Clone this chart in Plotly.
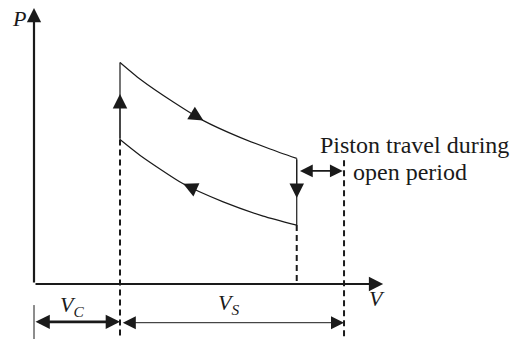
import plotly.graph_objects as go

# Indicator cycle of a ported cylinder; V and P in arbitrary units,
# origin at the corner of the axes.
upper_V = [20.0, 24.7, 32.4, 39.4, 47.9, 54.9, 61.1]
upper_P = [51.5, 47.6, 42.3, 38.0, 34.1, 31.4, 29.2]
lower_V = [20.0, 24.7, 34.7, 44.0, 53.3, 61.1]
lower_P = [33.6, 29.9, 23.3, 19.1, 15.8, 13.7]

V_C = 20.0          # clearance volume
V_PORT = 61.1       # piston position when the port opens
V_END = 72.1        # end of stroke
V_AXIS_MAX = 81.2
P_AXIS_MAX = 64.2

X_RANGE = [-7.907, 112.558]
Y_RANGE = [-12.791, 66.047]
Y_BOTTOM = Y_RANGE[0]

INK = "#1a1a1a"
SERIF = "Liberation Serif"

fig = go.Figure()


def line(xs, ys, width=1.2, dash=None, color=INK):
    fig.add_trace(go.Scatter(
        x=xs, y=ys, mode="lines",
        line=dict(color=color, width=width, dash=dash, shape="spline", smoothing=0.6),
        hoverinfo="skip", showlegend=False))


def arrow(x0, y0, x1, y1, width=1.2, size=1.8, both=False, head=2):
    fig.add_annotation(
        x=x1, y=y1, ax=x0, ay=y0, xref="x", yref="y", axref="x", ayref="y",
        text="", showarrow=True, arrowhead=head, startarrowhead=head,
        arrowsize=size, startarrowsize=size, arrowwidth=width,
        arrowcolor=INK, arrowside="end+start" if both else "end",
        standoff=0, startstandoff=0)


def label(x, y, text, size=22):
    fig.add_annotation(
        x=x, y=y, xref="x", yref="y", text=text, showarrow=False,
        xanchor="center", yanchor="middle",
        font=dict(family=SERIF, size=size, color=INK))


def curve_arrow(vs, ps, i, j, run=3.0):
    """Arrowhead sitting on the curve at point j, pointing away from point i."""
    slope = (ps[j] - ps[i]) / (vs[j] - vs[i])
    step = run if vs[i] < vs[j] else -run
    arrow(vs[j] - step, ps[j] - slope * step, vs[j], ps[j], width=1, size=2.9)


# expansion and compression curves
line(upper_V, upper_P, width=1.2)
line(lower_V, lower_P, width=1.2)

# vertical legs of the cycle
line([V_C, V_C], [lower_P[0], upper_P[0]], width=1.2)
line([V_PORT, V_PORT], [upper_P[-1], lower_P[-1]], width=1.2)

# direction markers on the cycle
curve_arrow(upper_V, upper_P, 2, 3)
curve_arrow(lower_V, lower_P, 3, 2)
arrow(V_C, lower_P[0], V_C, 44.2, width=1, size=2.9)
arrow(V_PORT, upper_P[-1], V_PORT, 20.0, width=1, size=2.9)

# dashed construction lines
DASH = "6px,4px"
line([V_C, V_C], [lower_P[0], Y_BOTTOM], width=2, dash=DASH)
line([V_PORT, V_PORT], [lower_P[-1], 0], width=2, dash=DASH)
line([V_END, V_END], [28.8, Y_BOTTOM], width=2, dash=DASH)

# axes
arrow(0, 0, 0, P_AXIS_MAX, width=2.2, size=1.3)
arrow(0, 0, V_AXIS_MAX, 0, width=2.2, size=1.3)

# dimension lines under the axis
line([0, 0], [-4.9, Y_BOTTOM], width=1)
arrow(0, -8.8, V_C, -8.8, width=2.6, size=1.1, both=True)
arrow(V_C + 0.3, -9.0, V_END, -9.0, width=1, size=2.6, both=True)
arrow(V_PORT + 0.4, 26.3, V_END - 0.3, 26.3, width=1.6, size=1.6, both=True)

# labels
label(-3.6, 61.8, "<i>P</i>")
label(79.8, -3.3, "<i>V</i>")
label(8.8, -5.1, "<i>V<sub>C</sub></i>")
label(45.3, -4.7, "<i>V<sub>S</sub></i>")
label(88.6, 32.4, "Piston travel during", size=24)
label(87.4, 26.0, "open period", size=24)

fig.update_layout(
    width=518, height=339,
    margin=dict(l=0, r=0, t=0, b=0),
    paper_bgcolor="white", plot_bgcolor="white",
    xaxis=dict(range=X_RANGE, visible=False, fixedrange=True),
    yaxis=dict(range=Y_RANGE, visible=False, fixedrange=True),
    showlegend=False,
)

fig.write_html("out.html")
